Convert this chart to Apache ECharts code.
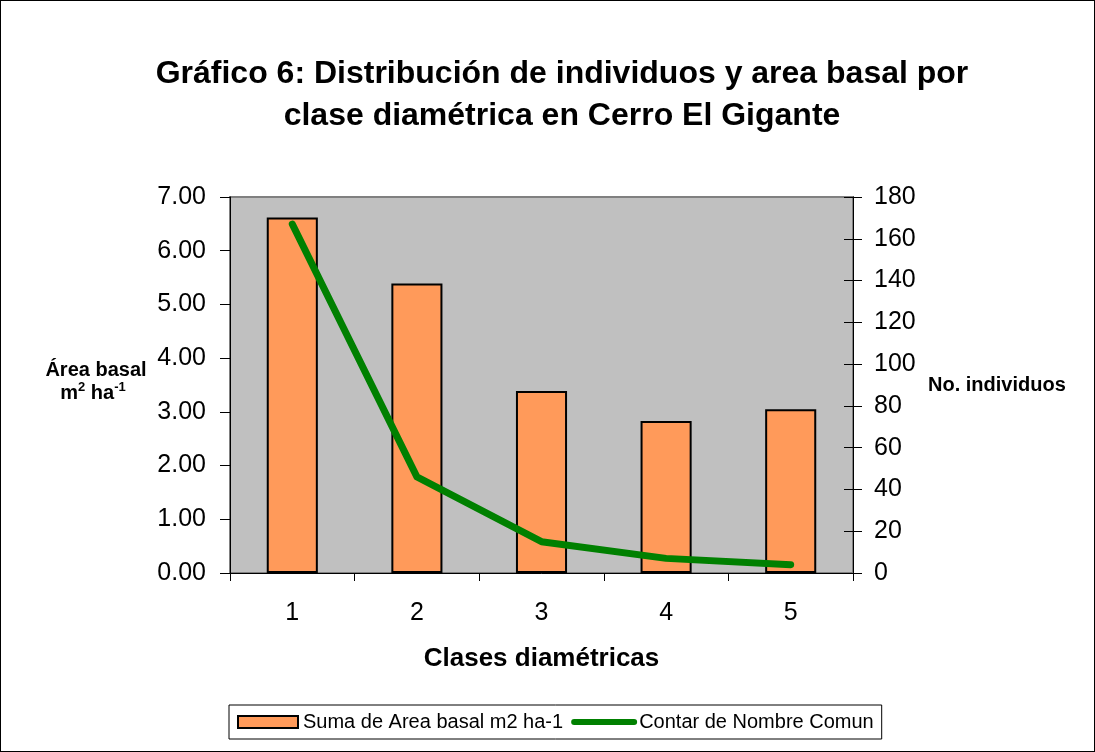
<!DOCTYPE html>
<html>
<head>
<meta charset="utf-8">
<script src="https://cdn.jsdelivr.net/npm/echarts@6/dist/echarts.min.js"></script>
<style>
  html, body { margin: 0; padding: 0; background: #fff; }
  #chart { width: 1095px; height: 752px; box-sizing: border-box; border: 1px solid #000; }
</style>
</head>
<body>
<div id="chart"></div>
<script>
// datos
var clases = ["1", "2", "3", "4", "5"];
var areaBasal = [6.62, 5.39, 3.39, 2.83, 3.05];
var individuos = [167, 46, 15, 7, 4];

var myChart = echarts.init(document.getElementById("chart"));
var font = "Liberation Sans, Arial, sans-serif";

myChart.setOption({
  animation: false,
  textStyle: { fontFamily: font },
  title: {
    text: "Gráfico 6: Distribución de individuos y area basal por\nclase diamétrica en Cerro El Gigante",
    left: 556,
    top: 47,
    textAlign: "center",
    textStyle: { fontSize: 32, fontWeight: "bold", color: "#000", lineHeight: 42, fontFamily: font },
  },
  legend: {
    left: 228,
    top: 704,
    padding: [7, 8, 7, 8],
    borderColor: "#000",
    borderWidth: 1,
    itemGap: 8,
    itemWidth: 60,
    itemHeight: 12,
    textStyle: { fontSize: 20, color: "#000", fontFamily: font },
    data: [
      {
        name: "Suma de Area basal m2 ha-1",
        icon: "rect",
        itemStyle: { borderColor: "#000", borderWidth: 2 },
      },
      {
        name: "Contar de Nombre Comun",
        itemStyle: { opacity: 0 },
        lineStyle: { width: 6, color: "#008000", cap: "round", opacity: 1 },
      },
    ],
  },
  grid: {
    left: 229,
    right: 241,
    top: 196,
    bottom: 178,
    show: true,
    backgroundColor: "#c0c0c0",
    borderColor: "#808080",
    borderWidth: 2,
  },
  xAxis: {
    type: "category",
    data: clases,
    boundaryGap: true,
    name: "Clases diamétricas",
    nameLocation: "middle",
    nameGap: 73,
    nameTextStyle: { fontSize: 26, fontWeight: "bold", color: "#000", fontFamily: font },
    axisLine: { lineStyle: { color: "#000", width: 1 } },
    axisTick: { show: true, length: 8, lineStyle: { color: "#000" } },
    axisLabel: { fontSize: 25, color: "#000", margin: 28, fontFamily: font },
    splitLine: { show: false },
  },
  yAxis: [
    {
      type: "value",
      min: 0,
      max: 7,
      interval: 1,
      axisLine: { show: true, lineStyle: { color: "#000" } },
      axisTick: { show: true, length: 10, lineStyle: { color: "#000" } },
      axisLabel: {
        fontSize: 25, color: "#000", margin: 24, fontFamily: font,
        formatter: function (v) { return v.toFixed(2); },
      },
      splitLine: { show: false },
    },
    {
      type: "value",
      min: 0,
      max: 180,
      interval: 20,
      position: "right",
      axisLine: { show: true, lineStyle: { color: "#000" } },
      axisTick: { show: true, length: 9, lineStyle: { color: "#000" } },
      axisLabel: { fontSize: 25, color: "#000", margin: 21, fontFamily: font },
      splitLine: { show: false },
    },
    {
      // marcas interiores del eje derecho (cruzan la linea del eje)
      type: "value",
      min: 0,
      max: 180,
      interval: 20,
      position: "right",
      axisLine: { show: false },
      axisTick: { show: true, inside: true, length: 9, lineStyle: { color: "#000" } },
      axisLabel: { show: false },
      splitLine: { show: false },
    },
  ],
  graphic: [
    {
      type: "text",
      x: 95,
      y: 369,
      style: {
        text: "Área basal",
        align: "center",
        verticalAlign: "middle",
        fill: "#000",
        font: "bold 20px " + font,
      },
    },
    {
      type: "text",
      x: 92,
      y: 392,
      style: {
        text: "{b|m}{s|2}{b| ha}{s|-1}",
        align: "center",
        verticalAlign: "middle",
        rich: {
          b: { fontSize: 20, fontWeight: "bold", fill: "#000", fontFamily: font, lineHeight: 24 },
          s: { fontSize: 13, fontWeight: "bold", fill: "#000", fontFamily: font, verticalAlign: "top", lineHeight: 24, padding: [0, 0, 10, 0] },
        },
      },
    },
    {
      type: "text",
      x: 927,
      y: 384,
      style: {
        text: "No. individuos",
        verticalAlign: "middle",
        fill: "#000",
        font: "bold 20px " + font,
      },
    },
  ],
  series: [
    {
      name: "Suma de Area basal m2 ha-1",
      type: "bar",
      yAxisIndex: 0,
      data: areaBasal,
      barWidth: "41%",
      itemStyle: { color: "#ff9a5a", borderColor: "#000", borderWidth: 2 },
    },
    {
      name: "Contar de Nombre Comun",
      type: "line",
      yAxisIndex: 1,
      data: individuos,
      symbol: "none",
      lineStyle: { color: "#008000", width: 7, cap: "round", join: "round" },
      itemStyle: { color: "#008000" },
    },
  ],
});
</script>
</body>
</html>
